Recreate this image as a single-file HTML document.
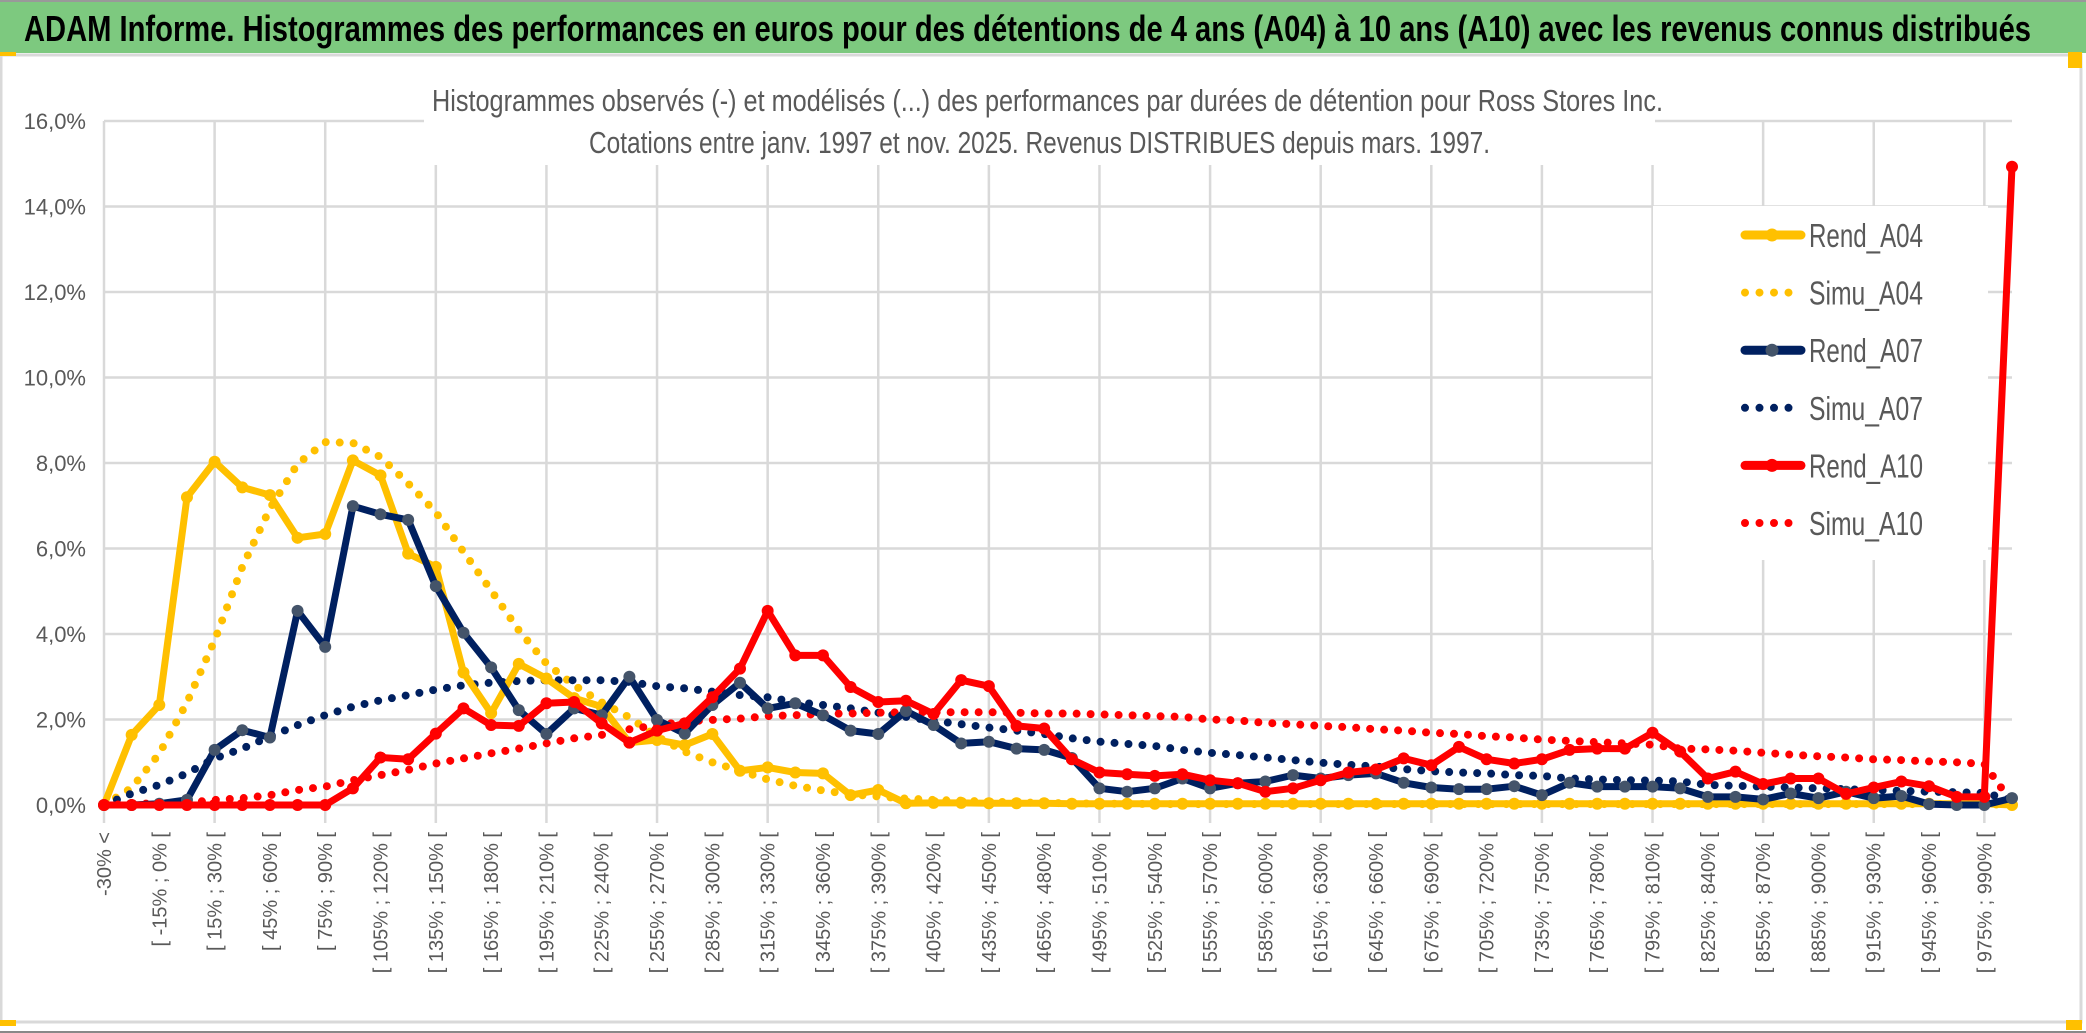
<!DOCTYPE html>
<html><head><meta charset="utf-8"><style>
html,body{margin:0;padding:0;background:#fff;}
svg{display:block;}
text{font-family:"Liberation Sans Narrow","Liberation Sans",sans-serif;}
</style></head><body>
<svg id="chart" width="2086" height="1033" viewBox="0 0 2086 1033" xmlns="http://www.w3.org/2000/svg">
<rect x="0" y="0" width="2086" height="1033" fill="#fff"/>
<rect x="0" y="2" width="2086" height="51" fill="#7DC97F"/>
<rect x="0" y="0" width="2086" height="2" fill="#999"/>
<text x="24" y="41" font-size="36" font-weight="bold" fill="#000" textLength="2007" lengthAdjust="spacingAndGlyphs">ADAM Informe. Histogrammes des performances en euros pour des détentions de 4 ans (A04) à 10 ans (A10) avec les revenus connus distribués</text>
<rect x="1" y="55" width="2080" height="967" fill="#fff" stroke="#D9D9D9" stroke-width="3"/>
<rect x="0" y="52" width="16" height="4" fill="#FFC000"/>
<rect x="2068" y="52" width="14" height="16" fill="#FFC000"/>
<rect x="2066" y="1020" width="16" height="10" fill="#FFC000"/>
<rect x="0" y="1031" width="2086" height="2" fill="#888"/>
<rect x="0" y="1020" width="16" height="6" fill="#FFC000"/>
<g id="grid"></g>
<g id="series"></g>
<g id="axes"></g>
<rect x="424" y="60" width="1231" height="105" fill="#fff"/>
<text x="432" y="111" font-size="31" fill="#595959" textLength="1231" lengthAdjust="spacingAndGlyphs">Histogrammes observés (-) et modélisés (...) des performances par durées de détention pour Ross Stores Inc.</text>
<text x="589" y="153" font-size="31" fill="#595959" textLength="901" lengthAdjust="spacingAndGlyphs">Cotations entre janv. 1997 et nov. 2025. Revenus DISTRIBUES depuis mars. 1997.</text>
<g id="legend"></g>
</svg>
<script>
const categories = (function(){const c=["-30% <"];for(let a=-30;a<990;a+=15){c.push("[ "+a+"% ; "+(a+15)+"% [");}c.push("> 990%");return c;})();
const yTicks = [0,2,4,6,8,10,12,14,16];
const yTickLabels = ["0,0%","2,0%","4,0%","6,0%","8,0%","10,0%","12,0%","14,0%","16,0%"];
const rendA04 = [0,1.64,2.34,7.2,8.03,7.43,7.25,6.25,6.34,8.06,7.71,5.88,5.57,3.1,2.15,3.3,2.96,2.5,2.3,1.46,1.52,1.4,1.66,0.8,0.88,0.76,0.74,0.23,0.35,0.04,0.05,0.05,0.04,0.04,0.04,0.03,0.03,0.03,0.03,0.03,0.03,0.03,0.03,0.03,0.03,0.03,0.03,0.03,0.03,0.03,0.03,0.03,0.03,0.03,0.03,0.03,0.03,0.03,0.03,0.03,0.03,0.03,0.03,0.03,0.03,0.03,0.03,0.03,0.03,0];
const simuA04 = [0,0.4,1.2,2.4,3.85,5.57,6.93,7.98,8.49,8.47,8.14,7.52,6.85,5.92,5.02,4.09,3.31,2.8,2.4,2.05,1.6,1.25,1.0,0.8,0.6,0.45,0.34,0.25,0.2,0.15,0.12,0.1,0.08,0.06,0.05,0.04,0.03,0.03,0.02,0.02,0.02,0.02,0.02,0.02,0.02,0.02,0.02,0.02,0.02,0.02,0.02,0.02,0.02,0.02,0.02,0.02,0.02,0.02,0.02,0.02,0.02,0.02,0.02,0.02,0.02,0.02,0.02,0.02,0.02,0];
const rendA07 = [0,0,0.03,0.12,1.29,1.75,1.58,4.54,3.7,6.99,6.8,6.67,5.12,4.03,3.22,2.22,1.66,2.26,2.1,3.0,1.99,1.67,2.34,2.86,2.26,2.38,2.1,1.74,1.66,2.2,1.87,1.44,1.48,1.32,1.29,1.1,0.39,0.31,0.39,0.62,0.39,0.51,0.55,0.7,0.62,0.7,0.74,0.52,0.41,0.37,0.37,0.44,0.23,0.52,0.43,0.43,0.43,0.39,0.19,0.19,0.13,0.27,0.16,0.31,0.16,0.21,0.02,0,0,0.16];
const simuA07 = [0,0.27,0.47,0.74,1.09,1.32,1.6,1.87,2.1,2.3,2.45,2.57,2.7,2.8,2.86,2.9,2.92,2.92,2.92,2.88,2.78,2.73,2.65,2.57,2.52,2.41,2.34,2.26,2.16,2.06,1.97,1.89,1.81,1.74,1.66,1.56,1.48,1.43,1.38,1.29,1.22,1.17,1.11,1.05,0.99,0.94,0.9,0.84,0.79,0.76,0.74,0.7,0.68,0.62,0.6,0.58,0.57,0.55,0.47,0.45,0.43,0.41,0.39,0.37,0.35,0.33,0.31,0.3,0.28,0.12];
const rendA10 = [0,0,0,0,0,0,0,0,0,0.39,1.11,1.07,1.67,2.26,1.87,1.85,2.38,2.41,1.91,1.46,1.74,1.91,2.52,3.19,4.54,3.5,3.5,2.76,2.41,2.44,2.13,2.92,2.78,1.85,1.79,1.07,0.76,0.72,0.68,0.72,0.58,0.51,0.31,0.39,0.58,0.76,0.83,1.09,0.93,1.36,1.07,0.97,1.07,1.29,1.32,1.32,1.69,1.25,0.62,0.78,0.49,0.62,0.62,0.26,0.41,0.55,0.44,0.19,0.19,14.93];
const simuA10 = [0,0.02,0.04,0.05,0.12,0.16,0.23,0.35,0.43,0.58,0.7,0.82,0.97,1.09,1.21,1.32,1.44,1.56,1.64,1.77,1.87,1.95,1.99,2.02,2.08,2.1,2.13,2.14,2.16,2.17,2.17,2.17,2.17,2.16,2.14,2.14,2.12,2.1,2.08,2.06,2.0,1.98,1.92,1.89,1.85,1.82,1.77,1.74,1.69,1.66,1.61,1.58,1.53,1.5,1.47,1.44,1.41,1.32,1.3,1.27,1.22,1.18,1.14,1.11,1.07,1.05,1.02,1.0,0.96,0.05];

const NS="http://www.w3.org/2000/svg";
const X0=104,X1=2012,Y0=805,YTOP=121,YMAX=16;
function xPos(i){return X0+i*(X1-X0)/(categories.length-1);}
function yPos(v){return Y0-v*(Y0-YTOP)/YMAX;}
function mk(tag,attrs,parent){const e=document.createElementNS(NS,tag);for(const k in attrs)e.setAttribute(k,attrs[k]);parent.appendChild(e);return e;}
const grid=document.getElementById('grid'),series=document.getElementById('series'),axes=document.getElementById('axes'),legend=document.getElementById('legend');

yTicks.forEach((t,k)=>{
  const l=mk('line',{x1:X0,x2:X1,y1:yPos(t),y2:yPos(t),stroke:'#D9D9D9','stroke-width':2.5},grid);
  
  
  const tx=mk('text',{x:86,y:yPos(t)+8,'text-anchor':'end','font-size':22,fill:'#595959'},axes);
  tx.textContent=yTickLabels[k];
  
  
});
categories.forEach((c,i)=>{
  if(i%4===0){
    const l=mk('line',{x1:xPos(i),x2:xPos(i),y1:YTOP,y2:Y0+18,stroke:'#D9D9D9','stroke-width':2.5},grid);
    
    
  }
  if(i%2===0){
    const x=xPos(i)+7,y=832;
    const tx=mk('text',{x:x,y:y,transform:'rotate(-90 '+x+' '+y+')','text-anchor':'end','font-size':20,fill:'#595959'},axes);
    tx.setAttribute('style','font-family:"Liberation Sans",sans-serif');
    tx.textContent=c;
    
    
  }
});

const defs=[
 {name:'simu-a04',data:simuA04,color:'#FFC000',dotted:true,label:'Simu_A04'},
 {name:'simu-a07',data:simuA07,color:'#002060',dotted:true,label:'Simu_A07'},
 {name:'simu-a10',data:simuA10,color:'#FF0000',dotted:true,label:'Simu_A10'},
 {name:'rend-a04',data:rendA04,color:'#FFC000',marker:'#FFC000',label:'Rend_A04'},
 {name:'rend-a07',data:rendA07,color:'#002060',marker:'#44546A',label:'Rend_A07'},
 {name:'rend-a10',data:rendA10,color:'#FF0000',marker:'#FF0000',label:'Rend_A10'}
];
defs.forEach(s=>{
  const pts=s.data.map((v,i)=>xPos(i).toFixed(1)+','+yPos(v).toFixed(1)).join(' ');
  const attrs={points:pts,fill:'none',stroke:s.color,'stroke-linejoin':'round'};
  if(s.dotted){attrs['stroke-width']=8;attrs['stroke-dasharray']='0 14';attrs['stroke-linecap']='round';}
  else{attrs['stroke-width']=7;}
  const pl=mk('polyline',attrs,series);
  
  
  if(s.marker){
    s.data.forEach((v,i)=>{
      const c=mk('circle',{cx:xPos(i),cy:yPos(v),r:6,fill:s.marker},series);
      
      
    });
  }
});

const lb=mk('rect',{x:1653,y:206,width:335,height:354,fill:'#fff'},legend);


const order=[3,0,4,1,5,2];
order.forEach((k,j)=>{
  const s=defs[k],cy=235+j*57.6;
  const g=mk('g',{},legend);
  
  
  if(s.dotted){
    mk('line',{x1:1745,x2:1802,y1:cy,y2:cy,stroke:s.color,'stroke-width':8,'stroke-dasharray':'0 14.5','stroke-linecap':'round'},g);
  }else{
    mk('line',{x1:1745,x2:1801,y1:cy,y2:cy,stroke:s.color,'stroke-width':9,'stroke-linecap':'round'},g);
    mk('circle',{cx:1772,cy:cy,r:6.5,fill:s.marker},g);
  }
  const t=mk('text',{x:1809,y:cy+12,'font-size':33,fill:'#595959',textLength:114,lengthAdjust:'spacingAndGlyphs'},g);
  t.textContent=s.label;
});
</script>
</body></html>
